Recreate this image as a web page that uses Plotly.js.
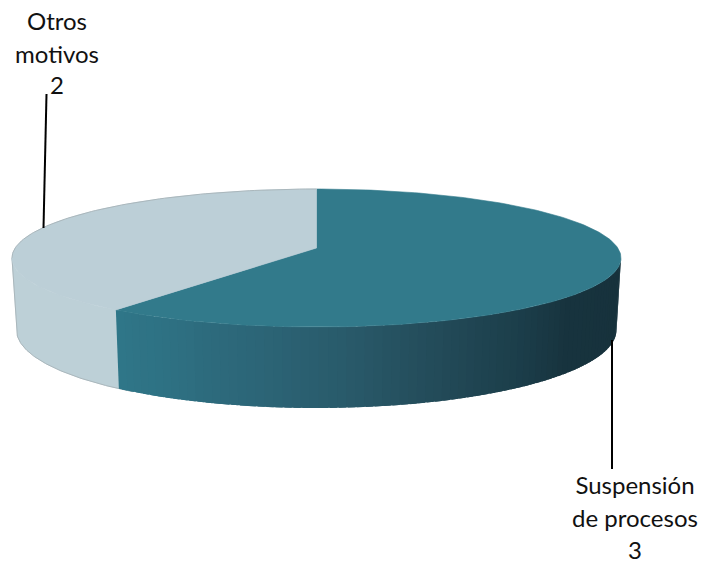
<!DOCTYPE html>
<html>
<head>
<meta charset="utf-8">
<script src="https://cdn.plot.ly/plotly-3.0.1.min.js"></script>
<style>html,body{margin:0;padding:0;background:#fff}#chart{width:704px;height:563px}</style>
</head>
<body>
<div id="chart"></div>
<script>
// Data
const categories = ["Suspensión de procesos", "Otros motivos"];
const values = [3, 2];
const labelLines = [["Suspensión", "de procesos"], ["Otros", "motivos"]];
const topColors = ["#327a8b", "#bccfd7"];

// Style and projection settings
const wallStopsX = [117, 250, 340, 430, 520, 565, 621];
const wallStopsC = [[47,118,136],[44,101,119],[41,90,106],[35,75,89],[27,61,73],[23,51,62],[23,50,60]];
const lightWall = "#bdd0d7";
const edgeColor = "#aab7bc";
const cx = 316.5, apexY = 248, rxP = 301.3, hP = 67.55, k = 0.145;
const baseScale = 0.985, baseCenterY = 330, baseRy = 78, baseRx = 300;

function project(deg, base) {
  const a = deg * Math.PI / 180, u = Math.sin(a), v = Math.cos(a), d = 1 + k * v;
  if (!base) return [cx + rxP * u / d, apexY - hP * v / d];
  const x = cx + baseScale * rxP * u / d;
  const r = (x - cx) / baseRx;
  return [x, baseCenterY + baseRy * Math.sqrt(Math.max(0, 1 - r * r))];
}
function wallColor(x) {
  let i = 0;
  while (i < wallStopsX.length - 2 && x > wallStopsX[i + 1]) i++;
  const t = Math.max(0, Math.min(1, (x - wallStopsX[i]) / (wallStopsX[i + 1] - wallStopsX[i])));
  const c = wallStopsC[i].map((p, j) => Math.round(p + (wallStopsC[i + 1][j] - p) * t));
  return `rgb(${c[0]},${c[1]},${c[2]})`;
}

const total = values.reduce((a, b) => a + b, 0);
const splitDeg = 360 * values[0] / total;
const traces = [];
const poly = (xs, ys, fill, line, lw) => ({
  x: xs, y: ys, mode: "lines", fill: "toself", fillcolor: fill,
  line: { color: line || fill, width: lw === undefined ? 0.6 : lw },
  hoverinfo: "skip", showlegend: false
});
function ring(from, to, base, n) {
  const out = [];
  for (let t = 0; t <= n; t++) out.push(project(from + (to - from) * t / n, base));
  return out;
}
const edgeLine = pts => ({
  x: pts.map(q => q[0]), y: pts.map(q => q[1]), mode: "lines",
  line: { color: edgeColor, width: 1 }, hoverinfo: "skip", showlegend: false
});

const wallStart = 98.3, wallEnd = 261.7, step = 1.5;

// Light wall as one piece, running slightly under the dark wall
{
  const topArc = ring(splitDeg - 3, wallEnd, false, 80);
  const baseArc = ring(wallEnd, splitDeg - 3, true, 80);
  const all = topArc.concat(baseArc);
  all.push(all[0]);
  traces.push(poly(all.map(q => q[0]), all.map(q => q[1]), lightWall));
  traces.push(edgeLine([project(wallEnd, false)].concat(baseArc)));
}

// Dark wall: strips painted toward the split, each overlapping the previous one
for (let a = wallStart; a < splitDeg; a += step) {
  const e = Math.min(a + step, splitDeg);
  const s = Math.max(wallStart, a - step * 0.8);
  const p = [project(s, false), project(e, false), project(e, true), project(s, true)];
  const m = project((a + e) / 2, false);
  const f = poly(p.map(q => q[0]).concat(p[0][0]), p.map(q => q[1]).concat(p[0][1]), wallColor(m[0]));
  f.line.width = 0;
  traces.push(f);
}

// Top faces, one wedge per category
let start = 0;
values.forEach((val, i) => {
  const sweep = 360 * val / total;
  const arc = ring(start, start + sweep, false, 200);
  const xs = [cx].concat(arc.map(q => q[0]), cx);
  const ys = [apexY].concat(arc.map(q => q[1]), apexY);
  traces.push(poly(xs, ys, topColors[i]));
  start += sweep;
});

// Faint rim on the light slice's far edge
traces.push(edgeLine(ring(wallEnd, 360, false, 80)));

// Leader lines
traces.push({ x: [612, 612], y: [340, 469], mode: "lines", line: { color: "#000", width: 2 }, hoverinfo: "skip", showlegend: false });
traces.push({ x: [43.5, 46.5], y: [228, 94], mode: "lines", line: { color: "#000", width: 2 }, hoverinfo: "skip", showlegend: false });

// Data labels: name lines then value
const labelX = [635, 57], labelY = [[488, 521, 553], [24, 57, 88]];
categories.forEach((c, i) => {
  const lines = labelLines[i].concat([String(values[i])]);
  traces.push({
    x: lines.map(() => labelX[i]), y: labelY[i], text: lines, mode: "text",
    textposition: "middle center",
    textfont: { family: "Lato, Carlito, sans-serif", size: 24, color: "#111" },
    hoverinfo: "skip", showlegend: false
  });
});

const layout = {
  width: 704, height: 563, margin: { l: 0, r: 0, t: 0, b: 0 },
  paper_bgcolor: "#fff", plot_bgcolor: "#fff", showlegend: false,
  xaxis: { range: [0, 704], visible: false, fixedrange: true },
  yaxis: { range: [563, 0], visible: false, fixedrange: true }
};
Plotly.newPlot("chart", traces, layout, { staticPlot: true, displayModeBar: false });
</script>
</body>
</html>
